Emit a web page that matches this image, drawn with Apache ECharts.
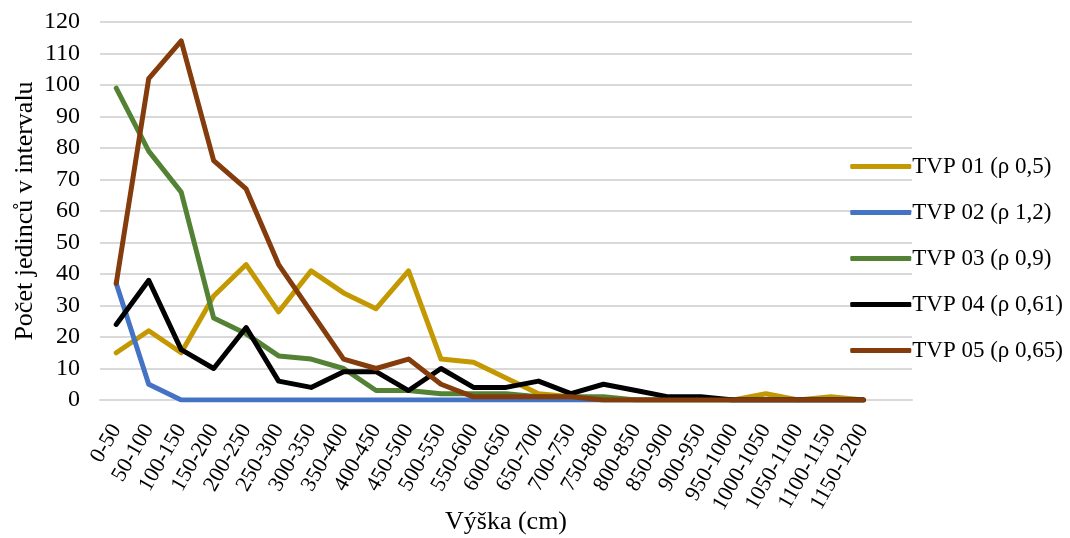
<!DOCTYPE html>
<html>
<head>
<meta charset="utf-8">
<script src="https://cdn.jsdelivr.net/npm/echarts@6/dist/echarts.min.js"></script>
<style>
  html, body { margin: 0; padding: 0; background: #fff; }
  #chart { width: 1070px; height: 538px; }
</style>
</head>
<body>
<div id="chart"></div>
<script>
// Height classes (cm); the trailing empty slot leaves room at the right end of the axis
const categories = ['0-50', '50-100', '100-150', '150-200', '200-250', '250-300', '300-350',
  '350-400', '400-450', '450-500', '500-550', '550-600', '600-650', '650-700', '700-750',
  '750-800', '800-850', '850-900', '900-950', '950-1000', '1000-1050', '1050-1100',
  '1100-1150', '1150-1200', ''];

// Number of individuals per height class for each plot
const tvp01 = [15, 22, 15, 33, 43, 28, 41, 34, 29, 41, 13, 12, 7, 2, 1, 0, 0, 0, 0, 0, 2, 0, 1, 0];
const tvp02 = [37, 5, 0, 0, 0, 0, 0, 0, 0, 0, 0, 0, 0, 0, 0, 0, 0, 0, 0, 0, 0, 0, 0, 0];
const tvp03 = [99, 79, 66, 26, 21, 14, 13, 10, 3, 3, 2, 2, 2, 1, 1, 1, 0, 0, 0, 0, 0, 0, 0, 0];
const tvp04 = [24, 38, 16, 10, 23, 6, 4, 9, 9, 3, 10, 4, 4, 6, 2, 5, 3, 1, 1, 0, 0, 0, 0, 0];
const tvp05 = [37, 102, 114, 76, 67, 43, 28, 13, 10, 13, 5, 1, 1, 1, 1, 0, 0, 0, 0, 0, 0, 0, 0, 0];

const seriesNames = ['TVP 01 (ρ 0,5)', 'TVP 02 (ρ 1,2)', 'TVP 03 (ρ 0,9)', 'TVP 04 (ρ 0,61)', 'TVP 05 (ρ 0,65)'];
const seriesColors = ['#C49800', '#4472C4', '#548235', '#000000', '#843C0C'];
const seriesData = [tvp01, tvp02, tvp03, tvp04, tvp05];

const yTicks = { min: 0, max: 120, interval: 10 };

const font = '"Liberation Serif", "Times New Roman", serif';

const chart = echarts.init(document.getElementById('chart'), null, { renderer: 'canvas' });

chart.setOption({
  animation: false,
  backgroundColor: '#ffffff',
  textStyle: { fontFamily: font, color: '#000' },
  grid: { left: 100, right: 158, top: 22, bottom: 138, containLabel: false, outerBoundsMode: 'none' },
  legend: {
    orient: 'vertical',
    right: 2,
    top: 150,
    itemGap: 23,
    itemWidth: 61,
    itemHeight: 5,
    icon: 'roundRect',
    textStyle: { fontFamily: font, fontSize: 23, color: '#000', padding: [0, 0, 0, -4] },
    data: seriesNames
  },
  xAxis: {
    type: 'category',
    data: categories,
    boundaryGap: true,
    name: 'Výška (cm)',
    nameLocation: 'middle',
    nameGap: 109,
    nameMoveOverlap: false,
    nameTextStyle: { fontFamily: font, fontSize: 26, color: '#000' },
    axisLine: { show: true, lineStyle: { color: '#D9D9D9', width: 2 } },
    axisTick: { show: false },
    axisLabel: {
      interval: 0,
      rotate: 60,
      margin: 26,
      fontFamily: font,
      fontSize: 22,
      color: '#000'
    },
    splitLine: { show: false }
  },
  yAxis: {
    type: 'value',
    min: yTicks.min,
    max: yTicks.max,
    interval: yTicks.interval,
    name: 'Počet jedinců v intervalu',
    nameLocation: 'middle',
    nameGap: 62,
    nameMoveOverlap: false,
    nameTextStyle: { fontFamily: font, fontSize: 26, color: '#000' },
    axisLine: { show: false },
    axisTick: { show: false },
    axisLabel: { margin: 20, fontFamily: font, fontSize: 24, color: '#000' },
    splitLine: { show: true, lineStyle: { color: '#D9D9D9', width: 2 } }
  },
  series: seriesData.map((vals, i) => ({
    name: seriesNames[i],
    type: 'line',
    data: vals,
    showSymbol: false,
    symbol: 'none',
    color: seriesColors[i],
    lineStyle: { width: 5, color: seriesColors[i], cap: 'round', join: 'round' },
    itemStyle: { color: seriesColors[i] },
    z: 2 + i
  }))
});
</script>
</body>
</html>
